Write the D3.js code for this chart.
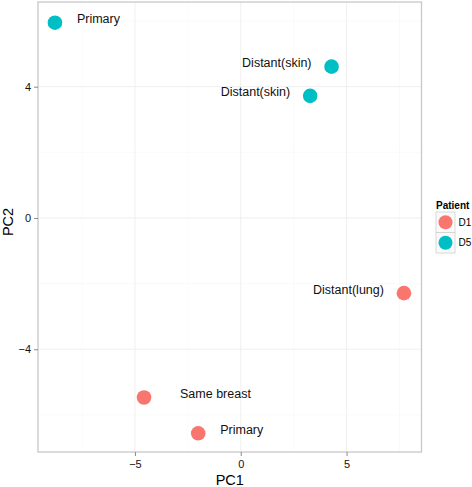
<!DOCTYPE html>
<html>
<head>
<meta charset="utf-8">
<script src="https://cdn.jsdelivr.net/npm/d3@7"></script>
<style>
  html, body { margin: 0; padding: 0; background: #fff; }
  text { font-family: "Liberation Sans", Arial, Helvetica, sans-serif; }
</style>
</head>
<body>
<svg id="chart" width="472" height="487"></svg>
<script>
// ---- data ----
const labels   = ["Primary", "Distant(skin)", "Distant(skin)", "Distant(lung)", "Same breast", "Primary"];
const patients = ["D5", "D5", "D5", "D1", "D1", "D1"];
const pc1      = [-8.78, 4.29, 3.28, 7.71, -4.57, -2.01];
const pc2      = [5.95, 4.61, 3.72, -2.29, -5.47, -6.56];
const labelSide = ["right", "left", "left", "left", "right", "right"];
const xTicks = [-5, 0, 5];
const yTicks = [-4, 0, 4];
const xMinor = [-7.5, -2.5, 2.5, 7.5];
const yMinor = [-6, -2, 2, 6];
const legendLevels = ["D1", "D5"];
const legendColors = ["#F8766D", "#00BFC4"];

// ---- layout ----
const svg = d3.select("#chart");
const panel = { left: 38, right: 421.5, top: 2, bottom: 452 };

const x = d3.scaleLinear().domain([-9.58, 8.54]).range([panel.left, panel.right]);
const y = d3.scaleLinear().domain([-7.13, 6.58]).range([panel.bottom, panel.top]);
const color = d3.scaleOrdinal().domain(legendLevels).range(legendColors);

const pts = labels.map((l, i) => ({ label: l, patient: patients[i], x: pc1[i], y: pc2[i], side: labelSide[i] }));

// panel background
svg.append("rect")
  .attr("x", panel.left).attr("y", panel.top)
  .attr("width", panel.right - panel.left).attr("height", panel.bottom - panel.top)
  .attr("fill", "#fff");

// minor grid
const g = svg.append("g");
g.selectAll(".vminor").data(xMinor).enter().append("line")
  .attr("x1", d => x(d)).attr("x2", d => x(d))
  .attr("y1", panel.top).attr("y2", panel.bottom)
  .attr("stroke", "#f7f7f7").attr("stroke-width", 0.6);
g.selectAll(".hminor").data(yMinor).enter().append("line")
  .attr("y1", d => y(d)).attr("y2", d => y(d))
  .attr("x1", panel.left).attr("x2", panel.right)
  .attr("stroke", "#f7f7f7").attr("stroke-width", 0.6);
// major grid
g.selectAll(".vmajor").data(xTicks).enter().append("line")
  .attr("x1", d => x(d)).attr("x2", d => x(d))
  .attr("y1", panel.top).attr("y2", panel.bottom)
  .attr("stroke", "#efefef").attr("stroke-width", 1);
g.selectAll(".hmajor").data(yTicks).enter().append("line")
  .attr("y1", d => y(d)).attr("y2", d => y(d))
  .attr("x1", panel.left).attr("x2", panel.right)
  .attr("stroke", "#efefef").attr("stroke-width", 1);

// points
svg.append("g").selectAll("circle").data(pts).enter().append("circle")
  .attr("cx", d => x(d.x)).attr("cy", d => y(d.y))
  .attr("r", 7.3)
  .attr("fill", d => color(d.patient));

// point labels
svg.append("g").selectAll("text").data(pts).enter().append("text")
  .attr("x", d => x(d.x) + (d.side === "right" ? (d.label === "Same breast" ? 36 : 22) : -20))
  .attr("y", d => y(d.y) - 4)
  .attr("dy", "0.35em")
  .attr("text-anchor", d => d.side === "right" ? "start" : "end")
  .attr("font-size", 12.5)
  .attr("fill", "#111")
  .text(d => d.label);

// panel border
svg.append("rect")
  .attr("x", panel.left).attr("y", panel.top)
  .attr("width", panel.right - panel.left).attr("height", panel.bottom - panel.top)
  .attr("fill", "none").attr("stroke", "#c8c8c8").attr("stroke-width", 1.3);

// axes
const xAxis = svg.append("g").attr("transform", `translate(0,${panel.bottom})`)
  .call(d3.axisBottom(x).tickValues(xTicks).tickSize(4).tickPadding(4)
        .tickFormat(d => d < 0 ? "\u2212" + Math.abs(d) : d));
const yAxis = svg.append("g").attr("transform", `translate(${panel.left},0)`)
  .call(d3.axisLeft(y).tickValues(yTicks).tickSize(4).tickPadding(3)
        .tickFormat(d => d < 0 ? "\u2212" + Math.abs(d) : d));
[xAxis, yAxis].forEach(a => {
  a.select(".domain").remove();
  a.selectAll(".tick line").attr("stroke", "#8a8a8a").attr("stroke-width", 1);
  a.selectAll(".tick text").attr("font-size", 11).attr("fill", "#111")
    .attr("font-family", "Liberation Sans, Arial, sans-serif");
});

// axis titles
svg.append("text")
  .attr("x", (panel.left + panel.right) / 2).attr("y", 485)
  .attr("text-anchor", "middle").attr("font-size", 14.5).attr("fill", "#000")
  .text("PC1");
svg.append("text")
  .attr("transform", `translate(13,222) rotate(-90)`)
  .attr("text-anchor", "middle").attr("font-size", 14.5).attr("fill", "#000")
  .text("PC2");

// legend
const lg = svg.append("g").attr("transform", "translate(436,0)");
lg.append("text").attr("x", 0).attr("y", 209)
  .attr("font-size", 10).attr("font-weight", "bold").attr("fill", "#000")
  .text("Patient");
const items = lg.selectAll(".item").data(legendLevels).enter().append("g")
  .attr("transform", (d, i) => `translate(0,${212 + i * 20.5})`);
items.append("rect").attr("x", 0).attr("y", 0).attr("width", 19).attr("height", 20.5)
  .attr("fill", "#fafafa").attr("stroke", "#d0d0d0").attr("stroke-width", 0.8);
items.append("circle").attr("cx", 9.5).attr("cy", 10.25).attr("r", 7)
  .attr("fill", d => color(d));
items.append("text").attr("x", 22.5).attr("y", 10.25).attr("dy", "0.35em")
  .attr("font-size", 10).attr("fill", "#000").text(d => d);
</script>
</body>
</html>
